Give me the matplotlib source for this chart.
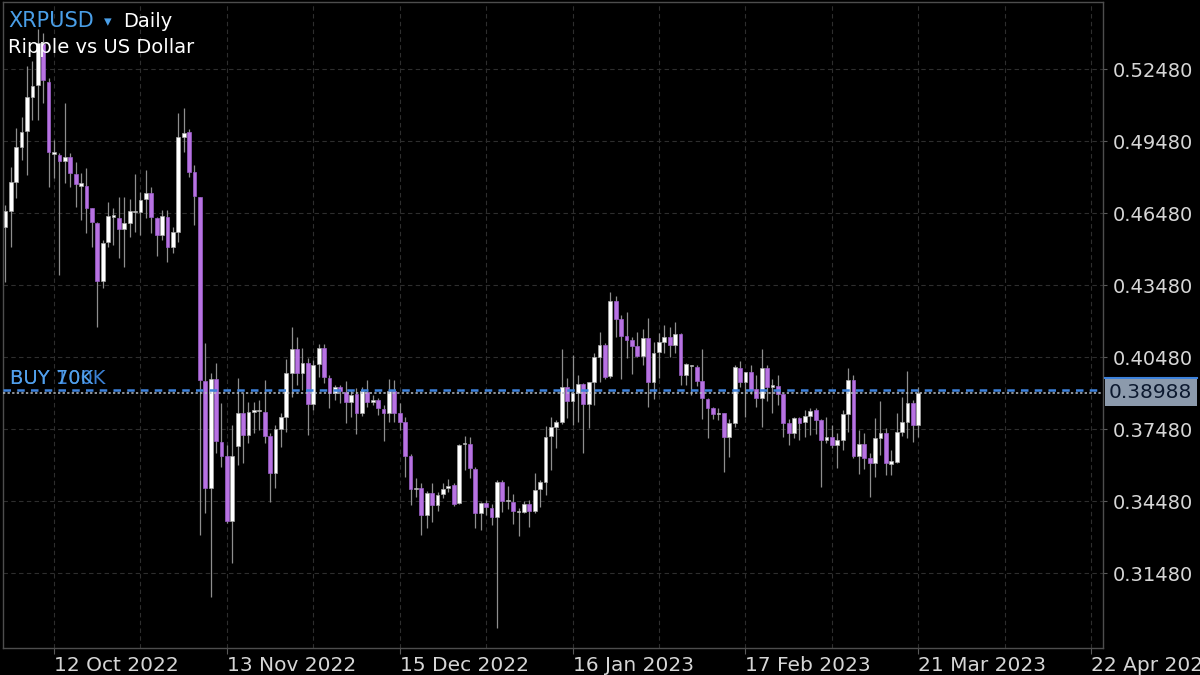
import numpy as np
import pandas as pd
import matplotlib
matplotlib.use("Agg")
import matplotlib.pyplot as plt
import matplotlib.transforms as mtransforms
from matplotlib.patches import Rectangle


start_date = "2022-10-02"

opens = [
    0.4748, 0.4590, 0.4657, 0.4778, 0.4924, 0.4990, 0.5132, 0.5182, 0.5353, 0.5194,
    0.4894, 0.4890, 0.4865, 0.4882, 0.4811, 0.4761, 0.4761, 0.4669, 0.4607, 0.4365,
    0.4528, 0.4632, 0.4628, 0.4582, 0.4607, 0.4653, 0.4653, 0.4707, 0.4732, 0.4628,
    0.4557, 0.4632, 0.4507, 0.4569, 0.4965, 0.4986, 0.4819, 0.4715, 0.3949, 0.3503,
    0.3957, 0.3694, 0.3636, 0.3365, 0.3678, 0.3815, 0.3724, 0.3819, 0.3825, 0.3819,
    0.3719, 0.3565, 0.3748, 0.3798, 0.3982, 0.4082, 0.3982, 0.4024, 0.3853, 0.4019,
    0.4086, 0.3961, 0.3899, 0.3923, 0.3902, 0.3861, 0.3894, 0.3815, 0.3902, 0.3861,
    0.3869, 0.3831, 0.3815, 0.3906, 0.3815, 0.3777, 0.3636, 0.3498, 0.3503, 0.3390,
    0.3481, 0.3431, 0.3477, 0.3503, 0.3515, 0.3440, 0.3686, 0.3686, 0.3581, 0.3399,
    0.3440, 0.3419, 0.3381, 0.3527, 0.3448, 0.3444, 0.3402, 0.3402, 0.3436, 0.3406,
    0.3498, 0.3527, 0.3719, 0.3756, 0.3777, 0.3923, 0.3865, 0.3899, 0.3936, 0.3853,
    0.3944, 0.4048, 0.4098, 0.3969, 0.4281, 0.4206, 0.4136, 0.4119, 0.4094, 0.4053,
    0.4128, 0.3944, 0.4069, 0.4111, 0.4132, 0.4098, 0.4144, 0.3973, 0.4011, 0.4006,
    0.3949, 0.3873, 0.3836, 0.3811, 0.3815, 0.3715, 0.3773, 0.4002, 0.3944, 0.3986,
    0.3915, 0.3877, 0.4002, 0.3923, 0.3927, 0.3894, 0.3773, 0.3732, 0.3794, 0.3777,
    0.3802, 0.3828, 0.3786, 0.3702, 0.3715, 0.3682, 0.3702, 0.3811, 0.3953, 0.3636,
    0.3686, 0.3627, 0.3607, 0.3711, 0.3732, 0.3602, 0.3611, 0.3736, 0.3777, 0.3857,
    0.3765,
]
highs = [
    0.4765, 0.4682, 0.4840, 0.5003, 0.5049, 0.5261, 0.5282, 0.5415, 0.5399, 0.5211,
    0.4953, 0.4899, 0.5107, 0.4899, 0.4861, 0.4815, 0.4836, 0.4669, 0.4611, 0.4536,
    0.4694, 0.4669, 0.4715, 0.4715, 0.4707, 0.4811, 0.4736, 0.4828, 0.4757, 0.4632,
    0.4661, 0.4661, 0.4590, 0.5065, 0.5086, 0.4999, 0.4849, 0.4715, 0.4107, 0.3982,
    0.4024, 0.3857, 0.3682, 0.3765, 0.3961, 0.3899, 0.3861, 0.3861, 0.3869, 0.3953,
    0.3732, 0.3765, 0.3815, 0.4040, 0.4174, 0.4132, 0.4086, 0.4044, 0.4036, 0.4102,
    0.4102, 0.3973, 0.3932, 0.3932, 0.3949, 0.3911, 0.3919, 0.3923, 0.3953, 0.3890,
    0.3877, 0.3848, 0.3957, 0.3953, 0.3857, 0.3798, 0.3644, 0.3544, 0.3523, 0.3490,
    0.3523, 0.3486, 0.3523, 0.3540, 0.3523, 0.3686, 0.3719, 0.3715, 0.3590, 0.3444,
    0.3452, 0.3436, 0.3536, 0.3536, 0.3511, 0.3477, 0.3419, 0.3448, 0.3452, 0.3565,
    0.3536, 0.3761, 0.3798, 0.3786, 0.4082, 0.3961, 0.4056, 0.3973, 0.3940, 0.3944,
    0.4065, 0.4152, 0.4107, 0.4319, 0.4302, 0.4223, 0.4236, 0.4132, 0.4152, 0.4165,
    0.4211, 0.4111, 0.4148, 0.4181, 0.4174, 0.4194, 0.4148, 0.4024, 0.4015, 0.4015,
    0.4082, 0.3877, 0.3840, 0.3836, 0.3815, 0.3790, 0.4015, 0.4031, 0.3986, 0.4015,
    0.3973, 0.4082, 0.4015, 0.3957, 0.3973, 0.3899, 0.3790, 0.3798, 0.3798, 0.3828,
    0.3836, 0.3836, 0.3790, 0.3798, 0.3765, 0.3732, 0.3828, 0.4002, 0.3973, 0.3744,
    0.3732, 0.3649, 0.3794, 0.3865, 0.3752, 0.3661, 0.3815, 0.3882, 0.3990, 0.3869,
    0.3923,
]
lows = [
    0.4369, 0.4361, 0.4507, 0.4711, 0.4869, 0.4807, 0.5036, 0.5036, 0.5107, 0.4757,
    0.4794, 0.4390, 0.4774, 0.4757, 0.4674, 0.4619, 0.4565, 0.4507, 0.4174, 0.4336,
    0.4507, 0.4515, 0.4461, 0.4424, 0.4549, 0.4569, 0.4557, 0.4628, 0.4565, 0.4469,
    0.4536, 0.4444, 0.4482, 0.4528, 0.4903, 0.4799, 0.4599, 0.3307, 0.3399, 0.3049,
    0.3649, 0.3590, 0.3357, 0.3190, 0.3599, 0.3607, 0.3690, 0.3732, 0.3744, 0.3690,
    0.3444, 0.3503, 0.3673, 0.3736, 0.3882, 0.3932, 0.3911, 0.3724, 0.3828, 0.3965,
    0.3940, 0.3836, 0.3869, 0.3857, 0.3773, 0.3798, 0.3727, 0.3802, 0.3840, 0.3848,
    0.3806, 0.3699, 0.3777, 0.3777, 0.3744, 0.3548, 0.3431, 0.3465, 0.3307, 0.3336,
    0.3361, 0.3406, 0.3461, 0.3486, 0.3427, 0.3436, 0.3577, 0.3544, 0.3336, 0.3327,
    0.3390, 0.3348, 0.2919, 0.3402, 0.3415, 0.3352, 0.3302, 0.3399, 0.3340, 0.3399,
    0.3423, 0.3473, 0.3577, 0.3669, 0.3769, 0.3794, 0.3765, 0.3777, 0.3649, 0.3752,
    0.3848, 0.3944, 0.3957, 0.3961, 0.4132, 0.3957, 0.4044, 0.3978, 0.4048, 0.4015,
    0.3840, 0.3873, 0.3961, 0.4065, 0.4048, 0.4065, 0.3932, 0.3932, 0.3890, 0.3927,
    0.3790, 0.3711, 0.3790, 0.3786, 0.3569, 0.3631, 0.3756, 0.3923, 0.3798, 0.3894,
    0.3840, 0.3756, 0.3865, 0.3815, 0.3848, 0.3715, 0.3682, 0.3711, 0.3702, 0.3715,
    0.3724, 0.3727, 0.3506, 0.3690, 0.3669, 0.3586, 0.3661, 0.3736, 0.3627, 0.3561,
    0.3581, 0.3465, 0.3548, 0.3640, 0.3556, 0.3556, 0.3607, 0.3719, 0.3711, 0.3694,
    0.3715,
]
closes = [
    0.4590, 0.4657, 0.4778, 0.4924, 0.4986, 0.5132, 0.5178, 0.5357, 0.5203, 0.4903,
    0.4903, 0.4865, 0.4882, 0.4815, 0.4769, 0.4774, 0.4669, 0.4611, 0.4365, 0.4524,
    0.4636, 0.4640, 0.4582, 0.4607, 0.4657, 0.4657, 0.4703, 0.4732, 0.4632, 0.4557,
    0.4636, 0.4507, 0.4569, 0.4965, 0.4982, 0.4819, 0.4719, 0.3953, 0.3503, 0.3957,
    0.3699, 0.3636, 0.3365, 0.3636, 0.3815, 0.3724, 0.3819, 0.3828, 0.3828, 0.3719,
    0.3565, 0.3748, 0.3798, 0.3982, 0.4082, 0.3982, 0.4024, 0.3853, 0.4015, 0.4086,
    0.3965, 0.3899, 0.3923, 0.3906, 0.3861, 0.3890, 0.3815, 0.3906, 0.3861, 0.3869,
    0.3836, 0.3815, 0.3906, 0.3815, 0.3777, 0.3636, 0.3498, 0.3503, 0.3390, 0.3481,
    0.3431, 0.3473, 0.3498, 0.3511, 0.3436, 0.3682, 0.3690, 0.3586, 0.3399, 0.3440,
    0.3423, 0.3381, 0.3527, 0.3448, 0.3452, 0.3406, 0.3406, 0.3436, 0.3406, 0.3494,
    0.3527, 0.3715, 0.3756, 0.3777, 0.3923, 0.3865, 0.3899, 0.3936, 0.3853, 0.3944,
    0.4048, 0.4098, 0.3965, 0.4281, 0.4206, 0.4136, 0.4119, 0.4094, 0.4053, 0.4128,
    0.3944, 0.4065, 0.4111, 0.4132, 0.4098, 0.4144, 0.3973, 0.4019, 0.4015, 0.3949,
    0.3877, 0.3836, 0.3811, 0.3815, 0.3715, 0.3773, 0.4006, 0.3944, 0.3986, 0.3911,
    0.3877, 0.4002, 0.3923, 0.3932, 0.3894, 0.3773, 0.3732, 0.3794, 0.3773, 0.3802,
    0.3823, 0.3786, 0.3702, 0.3715, 0.3682, 0.3702, 0.3811, 0.3953, 0.3636, 0.3686,
    0.3627, 0.3607, 0.3711, 0.3732, 0.3607, 0.3615, 0.3736, 0.3777, 0.3857, 0.3765,
    0.38988,
]

last_price = 0.38988
buy_price = 0.39105
price_ticks = [0.31480, 0.34480, 0.37480, 0.40480, 0.43480, 0.46480, 0.49480, 0.52480]
date_ticks = ["2022-10-12", "2022-11-13", "2022-12-15", "2023-01-16",
              "2023-02-17", "2023-03-21", "2023-04-22"]

BG = "black"
GRID = "#2e2e2e"
AXIS_TXT = "#d6d6d6"
BULL = "#ffffff"
BEAR = "#b872e2"
WICK = "#8e8e8e"
BLUE = "#4a9fe8"


def main():
    o = np.array(opens)
    h = np.array(highs)
    l = np.array(lows)
    c = np.array(closes)
    dates = pd.date_range(start_date, periods=len(o), freq="D")
    x = np.arange(len(o))

    fig = plt.figure(figsize=(12, 6.75), dpi=100, facecolor=BG)
    ax = fig.add_axes([3 / 1200, 27 / 675, 1100 / 1200, 646 / 675])
    ax.set_facecolor(BG)

    # candles
    up = c >= o
    ax.vlines(x, l, h, color=WICK, lw=0.9, zorder=2)
    body_lo = np.minimum(o, c)
    body_h = np.maximum(np.abs(c - o), 0.0004)
    ax.bar(x[up], body_h[up], bottom=body_lo[up], width=0.7, color=BULL,
           edgecolor="#a8a8a8", lw=0.5, zorder=3)
    ax.bar(x[~up], body_h[~up], bottom=body_lo[~up], width=0.7, color=BEAR,
           edgecolor="#9b5fc9", lw=0.5, zorder=3)

    # order / price lines
    ax.axhline(buy_price, color="#3d82dc", lw=1.8, ls=(0, (3, 2.5)), zorder=4)
    ax.axhline(last_price, color="#b8bec6", lw=1.1, ls=(0, (1.5, 1.5)), zorder=4)
    trans = mtransforms.blended_transform_factory(ax.transAxes, ax.transData)
    ax.text(0.0064, 0.3935, "BUY 100K", transform=trans, color="#3b80d4",
            fontsize=14, va="baseline", zorder=5)
    ax.text(0.0064, 0.3935, "BUY 70K", transform=trans, color="#52a0ea",
            fontsize=14, va="baseline", zorder=5)

    tick_pos = [(pd.Timestamp(d) - dates[0]).days for d in date_ticks]
    tick_lab = [pd.Timestamp(d).strftime("%d %b %Y") for d in date_ticks]
    ax.set_xticks(tick_pos)
    ax.set_xticklabels(tick_lab)
    ax.set_xticks([p + 16 for p in tick_pos] + [tick_pos[0] - 16], minor=True)
    for lab in ax.get_xticklabels():
        lab.set_horizontalalignment("left")

    ax.yaxis.tick_right()
    ax.set_yticks(price_ticks)
    ax.set_yticklabels([f"{p:.5f}" for p in price_ticks])

    # limits after ticks, set_ticks widens the view otherwise
    ax.set_xlim(0.557, 204.2)
    ax.set_ylim(0.28355, 0.55272)

    ax.tick_params(axis="x", which="major", colors="#5a5a5a", labelcolor=AXIS_TXT,
                   labelsize=14.5, length=4, pad=2)
    ax.tick_params(axis="x", which="minor", length=0)
    ax.tick_params(axis="y", colors="#5a5a5a", labelcolor=AXIS_TXT,
                   labelsize=14, length=3, pad=4)

    ax.grid(True, which="both", axis="x", color=GRID, lw=0.8, ls=(0, (4, 3)))
    ax.grid(True, which="major", axis="y", color=GRID, lw=0.8, ls=(0, (4, 3)))
    ax.set_axisbelow(True)
    for s in ax.spines.values():
        s.set_color("#4d4d4d")
        s.set_linewidth(1.0)

    # current price box on the right
    box = Rectangle((1105 / 1200, (675 - 406) / 675), 92 / 1200, 27 / 675,
                    transform=fig.transFigure, facecolor="#8c9aac",
                    edgecolor="none", zorder=5)
    fig.patches.append(box)
    fig.add_artist(plt.Line2D([1105 / 1200, 1197 / 1200],
                              [(675 - 378) / 675, (675 - 378) / 675],
                              transform=fig.transFigure, color="#3d82dc", lw=1.5))
    fig.text(1109 / 1200, (675 - 392.5) / 675, f"{last_price:.5f}",
             color="#0d1a30", fontsize=14.5, va="center", ha="left", zorder=6)

    # title
    fig.text(8 / 1200, 1 - 27 / 675, "XRPUSD", color=BLUE, fontsize=15, va="baseline")
    fig.text(104 / 1200, 1 - 26 / 675, "\u25be", color=BLUE, fontsize=11, va="baseline")
    fig.text(123 / 1200, 1 - 27 / 675, "Daily", color="white", fontsize=14, va="baseline")
    fig.text(8 / 1200, 1 - 53 / 675, "Ripple vs US Dollar", color="white",
             fontsize=14, va="baseline")

    fig.savefig("out.png", dpi=100, facecolor=BG)


if __name__ == '__main__':
    main()
